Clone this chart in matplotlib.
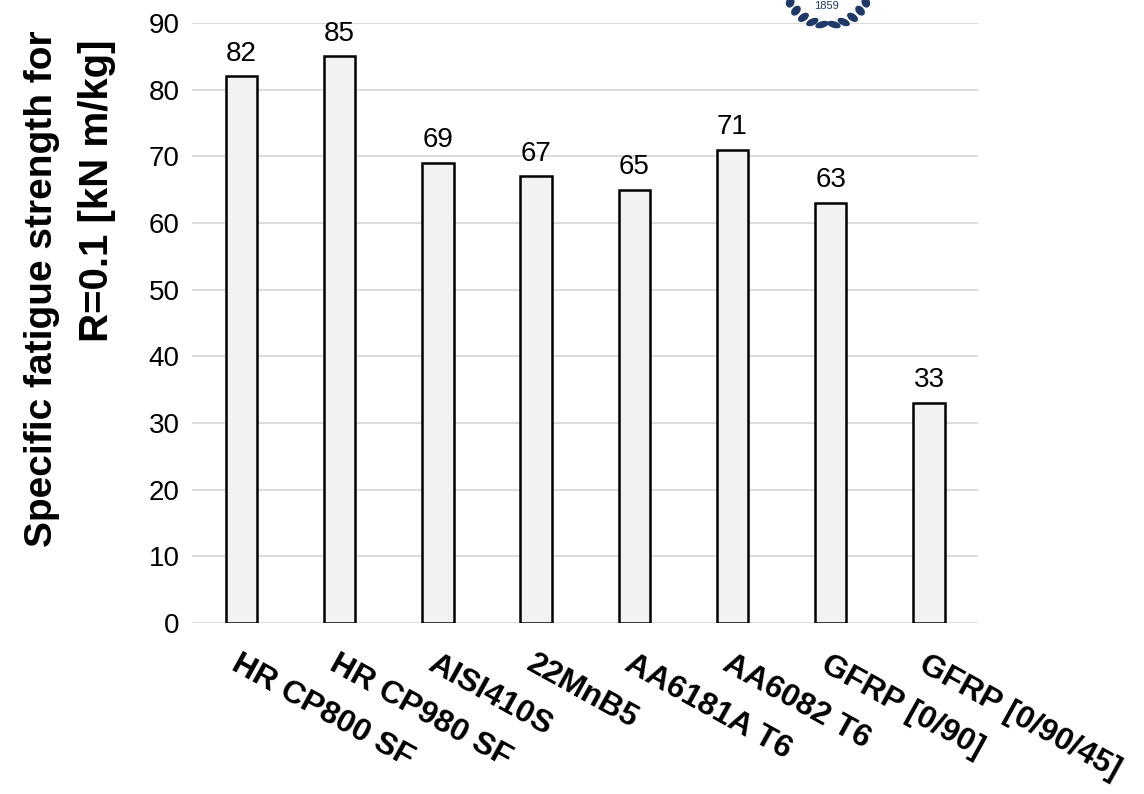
import numpy as np
import matplotlib.pyplot as plt
from matplotlib.patches import Ellipse

materials = ["HR CP800 SF", "HR CP980 SF", "AISI410S", "22MnB5",
             "AA6181A T6", "AA6082 T6", "GFRP [0/90]", "GFRP [0/90/45]"]
strength = [82, 85, 69, 67, 65, 71, 63, 33]
yticks = [0, 10, 20, 30, 40, 50, 60, 70, 80, 90]
ylabel_lines = ["Specific fatigue strength for", "R=0.1 [kN m/kg]"]

plt.rcParams['font.family'] = ['Liberation Sans', 'DejaVu Sans']

W, H = 1144, 794
fig = plt.figure(figsize=(W / 100, H / 100), dpi=100)
ax = fig.add_axes([0.168, 0.2154, 0.687, 0.7556])

x = np.arange(len(materials))
bars = ax.bar(x, strength, width=0.32, color='#f2f2f2', edgecolor='black',
              linewidth=1.8, zorder=3)
for b, v in zip(bars, strength):
    ax.annotate(str(v), (b.get_x() + b.get_width() / 2, v),
                xytext=(0, 7), textcoords='offset points',
                ha='center', va='bottom', fontsize=20)

ax.set_xlim(-0.5, len(materials) - 0.5)
ax.set_ylim(0, 90)
ax.set_yticks(yticks)
ax.yaxis.grid(True, color='#d9d9d9', linewidth=1.3, zorder=0)
for s in ax.spines.values():
    s.set_visible(False)
ax.tick_params(axis='both', length=0, labelsize=20)
ax.tick_params(axis='y', pad=9)

ax.set_xticks(x)
ax.set_xticklabels(materials, rotation=-29, ha='left', rotation_mode='anchor',
                   fontweight='bold', fontsize=23)
ax.tick_params(axis='x', pad=19)

# two-line axis title, lines aligned at the top
fig.text(42 / W, 1 - 30 / H, ylabel_lines[0], rotation=90, ha='center',
         va='top', fontsize=28, fontweight='bold')
fig.text(97 / W, 1 - 40 / H, ylabel_lines[1], rotation=90, ha='center',
         va='top', fontsize=29, fontweight='bold')

# university seal, cut off at the top edge
navy = '#1f3a68'
fig.text(826 / W, 1 - 6 / H, '1859', color=navy, fontsize=8,
         ha='center', va='center')
cx, cy, r = 828, -18, 43
for ang in np.linspace(195, 262, 6).tolist() + np.linspace(278, 345, 6).tolist():
    t = np.deg2rad(ang)
    px, py = cx + r * np.cos(t), cy - r * np.sin(t)
    if py < 0:
        continue
    e = Ellipse((px / W, 1 - py / H), 13 / W, 5 / H,
                angle=-(ang + 90) + 20 if ang < 270 else -(ang - 90) - 20,
                transform=fig.transFigure, color=navy)
    fig.add_artist(e)

fig.savefig('out.png', dpi=100)
